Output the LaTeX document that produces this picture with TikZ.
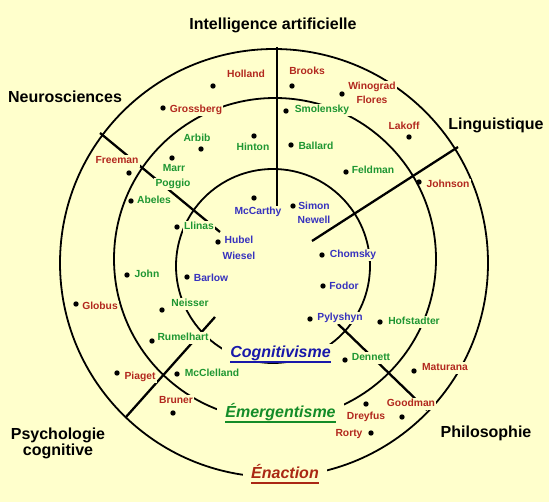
\documentclass[tikz,border=0pt]{standalone}
\usepackage{fontspec}
\setmainfont{Liberation Sans}
\definecolor{bg}{RGB}{255,255,204}
\definecolor{cred}{RGB}{178,40,30}
\definecolor{cgreen}{RGB}{30,150,50}
\definecolor{cblue}{RGB}{55,50,190}
\definecolor{ccog}{RGB}{25,25,170}
\definecolor{cemer}{RGB}{20,140,40}
\definecolor{cenac}{RGB}{170,40,20}
\begin{document}
\begin{tikzpicture}[x=1pt,y=-1pt,
  nm/.style={font=\fontsize{10.3}{12}\selectfont\bfseries, fill=bg, inner sep=1.4pt, anchor=base, text height=7.5pt, text depth=1.8pt},
  rn/.style={nm,text=cred},
  gn/.style={nm,text=cgreen},
  bn/.style={nm,text=cblue},
  hdr/.style={font=\fontsize{16}{13}\selectfont\bfseries, anchor=base, inner sep=0pt},
  para/.style={font=\fontsize{16}{16}\selectfont\bfseries\itshape, fill=bg, anchor=base, inner xsep=8pt, inner ysep=2pt},
  dot/.style={circle, fill=black, inner sep=0pt, minimum size=5.4pt},
  ring/.style={line width=1.8pt},
  bar/.style={line width=2.3pt},
  uline/.style={line width=2pt}]
\fill[bg] (0,0) rectangle (549,502);
\useasboundingbox (0,0) rectangle (549,502);

% rings
\draw[ring] (274,263) circle[radius=214pt];
\draw[ring] (275,259) circle[radius=161pt];
\draw[ring] (273,266) circle[radius=97pt];

% sector boundaries
\coordinate (a1) at (277,47);   \coordinate (a2) at (277,207);
\coordinate (b1) at (458,147);  \coordinate (b2) at (312,241);
\coordinate (c1) at (100,133);  \coordinate (c2) at (220,232);
\coordinate (d1) at (126,417);  \coordinate (d2) at (215,317);
\coordinate (e1) at (338,324);  \coordinate (e2) at (427,410);
\draw[bar] (a1) -- (a2);
\draw[bar] (b1) -- (b2);
\draw[bar] (c1) -- (c2);
\draw[bar] (d1) -- (d2);
\draw[bar] (e1) -- (e2);

% dots
\node[dot] (dholland) at (213,86) {};
\node[dot] (dgrossberg) at (163,108) {};
\node[dot] (dbrooks) at (292,86) {};
\node[dot] (dwinograd) at (342,94) {};
\node[dot] (dlakoff) at (409,137) {};
\node[dot] (djohnson) at (419,182) {};
\node[dot] (dfreeman) at (129,173) {};
\node[dot] (dglobus) at (76,304) {};
\node[dot] (dpiaget) at (117,373) {};
\node[dot] (dbruner) at (173,413) {};
\node[dot] (dmaturana) at (414,371) {};
\node[dot] (dgoodman) at (402,417) {};
\node[dot] (ddreyfus) at (366,404) {};
\node[dot] (drorty) at (371,433) {};
\node[dot] (darbib) at (201,149) {};
\node[dot] (dhinton) at (254,136) {};
\node[dot] (dsmolensky) at (286,111) {};
\node[dot] (dballard) at (291,145) {};
\node[dot] (dfeldman) at (346,172) {};
\node[dot] (dmarr) at (172,158) {};
\node[dot] (dabeles) at (131,201) {};
\node[dot] (dllinas) at (177,227) {};
\node[dot] (djohn) at (127,275) {};
\node[dot] (dneisser) at (162,310) {};
\node[dot] (drumelhart) at (152,341) {};
\node[dot] (dmcclelland) at (177,374) {};
\node[dot] (dhofstadter) at (380,322) {};
\node[dot] (ddennett) at (345,360) {};
\node[dot] (dmccarthy) at (254,198) {};
\node[dot] (dsimon) at (293,206) {};
\node[dot] (dhubel) at (218,242) {};
\node[dot] (dbarlow) at (187,277) {};
\node[dot] (dchomsky) at (322,255) {};
\node[dot] (dfodor) at (323,286) {};
\node[dot] (dpylyshyn) at (310,319) {};

% red names
\node[rn] (holland) at (246,78) {Holland};
\node[rn] (grossberg) at (196,113) {Grossberg};
\node[rn] (brooks) at (307,75) {Brooks};
\node[rn] (winograd) at (372,90) {Winograd};
\node[rn] (flores) at (372,104) {Flores};
\node[rn] (lakoff) at (404,130) {Lakoff};
\node[rn] (johnson) at (448,188) {Johnson};
\node[rn] (freeman) at (117,164) {Freeman};
\node[rn] (globus) at (100,310) {Globus};
\node[rn] (piaget) at (140,380) {Piaget};
\node[rn] (bruner) at (176,404) {Bruner};
\node[rn] (maturana) at (445,371) {Maturana};
\node[rn] (goodman) at (411,407) {Goodman};
\node[rn] (dreyfus) at (366,420) {Dreyfus};
\node[rn] (rorty) at (349,437) {Rorty};

% green names
\node[gn] (arbib) at (197,142) {Arbib};
\node[gn] (hinton) at (253,151) {Hinton};
\node[gn] (smolensky) at (322,113) {Smolensky};
\node[gn] (ballard) at (316,150) {Ballard};
\node[gn] (feldman) at (373,174) {Feldman};
\node[gn] (marr) at (174,172) {Marr};
\node[gn] (poggio) at (173,187) {Poggio};
\node[gn] (abeles) at (154,204) {Abeles};
\node[gn] (llinas) at (199,230) {Llinas};
\node[gn] (john) at (147,278) {John};
\node[gn] (neisser) at (190,307) {Neisser};
\node[gn] (rumelhart) at (183,341) {Rumelhart};
\node[gn] (mcclelland) at (212,377) {McClelland};
\node[gn] (hofstadter) at (414,325) {Hofstadter};
\node[gn] (dennett) at (371,361) {Dennett};

% blue names
\node[bn] (mccarthy) at (258,215) {McCarthy};
\node[bn] (simon) at (314,210) {Simon};
\node[bn] (newell) at (314,224) {Newell};
\node[bn] (hubel) at (239,244) {Hubel};
\node[bn] (wiesel) at (239,260) {Wiesel};
\node[bn] (barlow) at (211,282) {Barlow};
\node[bn] (chomsky) at (353,258) {Chomsky};
\node[bn] (fodor) at (344,290) {Fodor};
\node[bn] (pylyshyn) at (340,321) {Pylyshyn};

% domain headers
\node[hdr] (ia) at (273,29.5) {Intelligence artificielle};
\node[hdr] (neuro) at (65,103) {Neurosciences};
\node[hdr] (ling) at (496,129.5) {Linguistique};
\node[hdr] (philo) at (486,438) {Philosophie};
\node[hdr] (psy1) at (58,440) {Psychologie};
\node[hdr] (psy2) at (58,455.5) {cognitive};

% paradigms
\node[para, text=ccog] (cog) at (280.5,357.7) {Cognitivisme};
\draw[uline, ccog] ([xshift=8pt,yshift=-4.5pt]cog.base west) -- ([xshift=-8pt,yshift=-4.5pt]cog.base east);
\node[para, text=cemer] (emer) at (280.5,417.7) {Émergentisme};
\draw[uline, cemer] ([xshift=8pt,yshift=-4.5pt]emer.base west) -- ([xshift=-8pt,yshift=-4.5pt]emer.base east);
\node[para, text=cenac] (enac) at (285,478.7) {Énaction};
\draw[uline, cenac] ([xshift=8pt,yshift=-4.5pt]enac.base west) -- ([xshift=-8pt,yshift=-4.5pt]enac.base east);
\end{tikzpicture}
\end{document}
